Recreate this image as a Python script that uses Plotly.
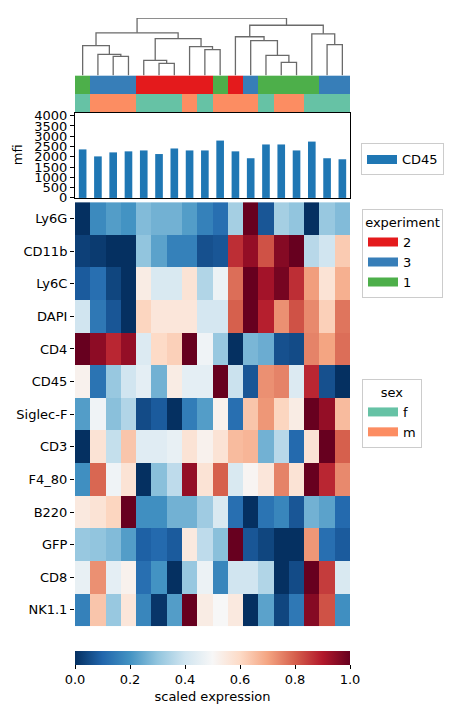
import plotly.graph_objects as go

# ---------------- data ----------------
markers = ["Ly6G", "CD11b", "Ly6C", "DAPI", "CD4", "CD45", "Siglec-F",
           "CD3", "F4_80", "B220", "GFP", "CD8", "NK1.1"]
n_cols = 18

expression = [
    [0.00, 0.18, 0.22, 0.20, 0.28, 0.26, 0.26, 0.22, 0.16, 0.12, 0.33, 1.00, 0.07, 0.33, 0.30, 0.00, 0.31, 0.28],  # Ly6G
    [0.03, 0.02, 0.00, 0.00, 0.30, 0.23, 0.16, 0.16, 0.06, 0.07, 0.87, 0.94, 0.82, 0.96, 1.00, 0.36, 0.40, 0.63],  # CD11b
    [0.08, 0.12, 0.04, 0.00, 0.54, 0.42, 0.42, 0.57, 0.35, 0.47, 0.78, 1.00, 0.92, 0.98, 0.87, 0.71, 0.57, 0.68],  # Ly6C
    [0.40, 0.14, 0.07, 0.00, 0.61, 0.56, 0.56, 0.56, 0.41, 0.41, 0.80, 1.00, 0.89, 0.73, 0.82, 0.74, 0.62, 0.77],  # DAPI
    [1.00, 0.95, 0.88, 0.94, 0.43, 0.60, 0.62, 1.00, 0.48, 0.31, 0.00, 0.27, 0.25, 0.06, 0.05, 0.75, 0.70, 0.78],  # CD4
    [0.52, 0.13, 0.31, 0.40, 0.45, 0.26, 0.54, 0.45, 0.45, 1.00, 0.39, 0.07, 0.73, 0.75, 0.43, 0.88, 0.06, 0.00],  # CD45
    [0.22, 0.48, 0.29, 0.35, 0.05, 0.08, 0.00, 0.15, 0.22, 0.52, 0.12, 0.64, 0.72, 0.61, 0.54, 1.00, 0.94, 0.66],  # Siglec-F
    [0.00, 0.57, 0.38, 0.64, 0.44, 0.44, 0.46, 0.57, 0.52, 0.57, 0.66, 0.67, 0.26, 0.36, 0.11, 0.57, 1.00, 0.80],  # CD3
    [0.19, 0.79, 0.48, 0.57, 0.00, 0.29, 0.37, 0.94, 0.57, 0.80, 0.42, 0.51, 0.56, 0.75, 0.57, 1.00, 0.88, 0.74],  # F4_80
    [0.55, 0.57, 0.61, 1.00, 0.19, 0.19, 0.26, 0.26, 0.32, 0.42, 0.12, 0.00, 0.13, 0.17, 0.07, 0.26, 0.23, 0.11],  # B220
    [0.31, 0.30, 0.28, 0.22, 0.09, 0.11, 0.08, 0.55, 0.37, 0.29, 1.00, 0.07, 0.04, 0.00, 0.00, 0.72, 0.12, 0.08],  # GFP
    [0.46, 0.73, 0.45, 0.52, 0.12, 0.20, 0.00, 0.31, 0.47, 0.17, 0.40, 0.40, 0.35, 0.00, 0.05, 1.00, 0.85, 0.42],  # CD8
    [0.16, 0.64, 0.31, 0.56, 0.17, 0.01, 0.22, 1.00, 0.54, 0.50, 0.55, 0.00, 0.23, 0.04, 0.14, 0.96, 0.82, 0.19],  # NK1.1
]

mfi_cd45 = [2360, 2020, 2215, 2265, 2310, 2135, 2405, 2310, 2310,
            2790, 2265, 1930, 2600, 2600, 2310, 2740, 1930, 1880]

experiment = ["1", "3", "3", "3", "2", "2", "2", "2", "2",
              "1", "2", "3", "1", "1", "1", "1", "3", "3"]
sex = ["f", "m", "m", "m", "f", "f", "f", "m", "f",
       "m", "m", "m", "f", "m", "m", "f", "f", "f"]

experiment_order = ["2", "3", "1"]
experiment_colors = ["#e41a1c", "#377eb8", "#4daf4a"]
sex_order = ["f", "m"]
sex_colors = ["#66c2a5", "#fc8d62"]
bar_color = "#1f77b4"

# dendrogram linkage: (child_a, child_b, height); leaves 0..17, new nodes numbered from 18
linkage = [
    (2, 3, 19.3), (1, 18, 21.3), (0, 19, 30.3),
    (5, 6, 12.3), (4, 21, 15.3), (8, 9, 26.3), (7, 23, 29.3),
    (22, 24, 37.3), (20, 25, 43.3),
    (13, 14, 13.3), (12, 27, 20.3), (11, 28, 35.3), (10, 29, 39.3),
    (16, 17, 31.3), (15, 31, 42.3), (30, 32, 51.0), (26, 33, 58.3),
]

cbar_ticks = [0.0, 0.2, 0.4, 0.6, 0.8, 1.0]
mfi_ticks = list(range(0, 4001, 500))

# ---------------- layout helpers ----------------
W, H = 463, 717
def fx(p):
    return p / W
def fy(p):
    return 1 - p / H

X0, X1 = 75, 350
FONT = dict(family="DejaVu Sans", size=13, color="black")

rdbu_r = [
    [0.0, "rgb(5,48,97)"], [0.1, "rgb(33,102,172)"], [0.2, "rgb(67,147,195)"],
    [0.3, "rgb(146,197,222)"], [0.4, "rgb(209,229,240)"], [0.5, "rgb(247,247,247)"],
    [0.6, "rgb(253,219,199)"], [0.7, "rgb(244,165,130)"], [0.8, "rgb(214,96,77)"],
    [0.9, "rgb(178,24,43)"], [1.0, "rgb(103,0,31)"],
]

centers = [i + 0.5 for i in range(n_cols)]

fig = go.Figure()

# ---------------- dendrogram ----------------
xpos = {i: centers[i] for i in range(n_cols)}
hpos = {i: 0.0 for i in range(n_cols)}
dx, dy = [], []
node = n_cols
for a, b, h in linkage:
    dx += [xpos[a], xpos[a], xpos[b], xpos[b], None]
    dy += [hpos[a], h, h, hpos[b], None]
    xpos[node] = (xpos[a] + xpos[b]) / 2
    hpos[node] = h
    node += 1
fig.add_trace(go.Scatter(x=dx, y=dy, mode="lines", line=dict(color="#6a6a6a", width=1.3),
                         hoverinfo="skip", showlegend=False, xaxis="x", yaxis="y"))

# ---------------- annotation rows ----------------
codes_exp = [experiment_order.index(e) for e in experiment]
codes_sex = [len(experiment_order) + sex_order.index(s) for s in sex]
all_colors = experiment_colors + sex_colors
ncat = len(all_colors)
ann_scale = []
for k, c in enumerate(all_colors):
    ann_scale.append([k / ncat, c])
    ann_scale.append([(k + 1) / ncat, c])
fig.add_trace(go.Heatmap(z=[codes_exp, codes_sex], x=centers, y=[0, 1],
                         colorscale=ann_scale, zmin=-0.5, zmax=ncat - 0.5,
                         showscale=False, hoverinfo="skip", xaxis="x2", yaxis="y2"))

def legend_patch(name, color, legend):
    # legend-only entry drawn as a wide rectangular patch
    fig.add_trace(go.Scatter(x=[None], y=[None], mode="lines", name=name,
                             line=dict(color=color, width=9), legend=legend,
                             xaxis="x2", yaxis="y2"))

for name, col in zip(experiment_order, experiment_colors):
    legend_patch(name, col, "legend2")
for name, col in zip(sex_order, sex_colors):
    legend_patch(name, col, "legend3")

# ---------------- bar plot ----------------
fig.add_trace(go.Bar(x=centers, y=mfi_cd45, width=0.5, marker_color=bar_color,
                     marker_line_width=0, name="CD45", showlegend=False,
                     xaxis="x3", yaxis="y3"))
legend_patch("CD45", bar_color, "legend")

# ---------------- main heatmap ----------------
fig.add_trace(go.Heatmap(
    z=expression, x=centers, y=markers, colorscale=rdbu_r, zmin=0, zmax=1,
    xaxis="x4", yaxis="y4",
    colorbar=dict(orientation="h", thickness=14, len=X1 - X0, lenmode="pixels",
                  x=fx(X0), xanchor="left", y=fy(658), yanchor="top",
                  xpad=0, ypad=0, outlinewidth=0,
                  tickvals=cbar_ticks, tickformat=".1f", ticks="outside", ticklen=4,
                  tickcolor="black", tickfont=FONT,
                  title=dict(text="scaled expression", side="bottom", font=FONT)),
))

xdom = [fx(X0), fx(X1)]
hidden_x = dict(domain=xdom, range=[0, n_cols], showticklabels=False, ticks="",
                showgrid=False, zeroline=False)
fig.update_layout(
    width=W, height=H, margin=dict(l=0, r=0, t=0, b=0),
    paper_bgcolor="white", plot_bgcolor="white", font=FONT,
    xaxis=dict(**hidden_x, showline=False),
    yaxis=dict(domain=[fy(71.7), fy(13.3)], range=[0, 58.3], visible=False),
    xaxis2=dict(**hidden_x, showline=False, anchor="y2"),
    yaxis2=dict(domain=[fy(109.5), fy(71.7)], range=[1.5, -0.5], visible=False, anchor="x2"),
    xaxis3=dict(**hidden_x, showline=True, linecolor="black", linewidth=1, mirror=True, anchor="y3"),
    yaxis3=dict(domain=[fy(196.5), fy(110)], range=[0, 4130], tickvals=mfi_ticks,
                ticks="outside", ticklen=4, tickcolor="black", showgrid=False, zeroline=False,
                showline=True, linecolor="black", linewidth=1, mirror=True, anchor="x3",
                tickfont=FONT),
    xaxis4=dict(**hidden_x, showline=False, anchor="y4"),
    yaxis4=dict(domain=[fy(632.7), fy(200.8)], autorange="reversed", type="category",
                ticks="outside", ticklen=4, tickcolor="black", showgrid=False,
                tickfont=FONT, anchor="x4"),
    legend=dict(x=fx(361), y=fy(141), xanchor="left", yanchor="top",
                bordercolor="#cccccc", borderwidth=1, font=FONT),
    legend2=dict(x=fx(362), y=fy(208), xanchor="left", yanchor="top",
                 bordercolor="#cccccc", borderwidth=1, font=FONT,
                 title=dict(text="experiment", side="top center", font=FONT)),
    legend3=dict(x=fx(362), y=fy(381), xanchor="left", yanchor="top",
                 bordercolor="#cccccc", borderwidth=1, font=FONT,
                 title=dict(text="sex", side="top center", font=FONT)),
    annotations=[dict(text="mfi", x=fx(17), y=fy(153), xref="paper", yref="paper",
                      textangle=-90, showarrow=False, font=FONT,
                      xanchor="center", yanchor="middle")],
)

fig.write_html("out.html")
